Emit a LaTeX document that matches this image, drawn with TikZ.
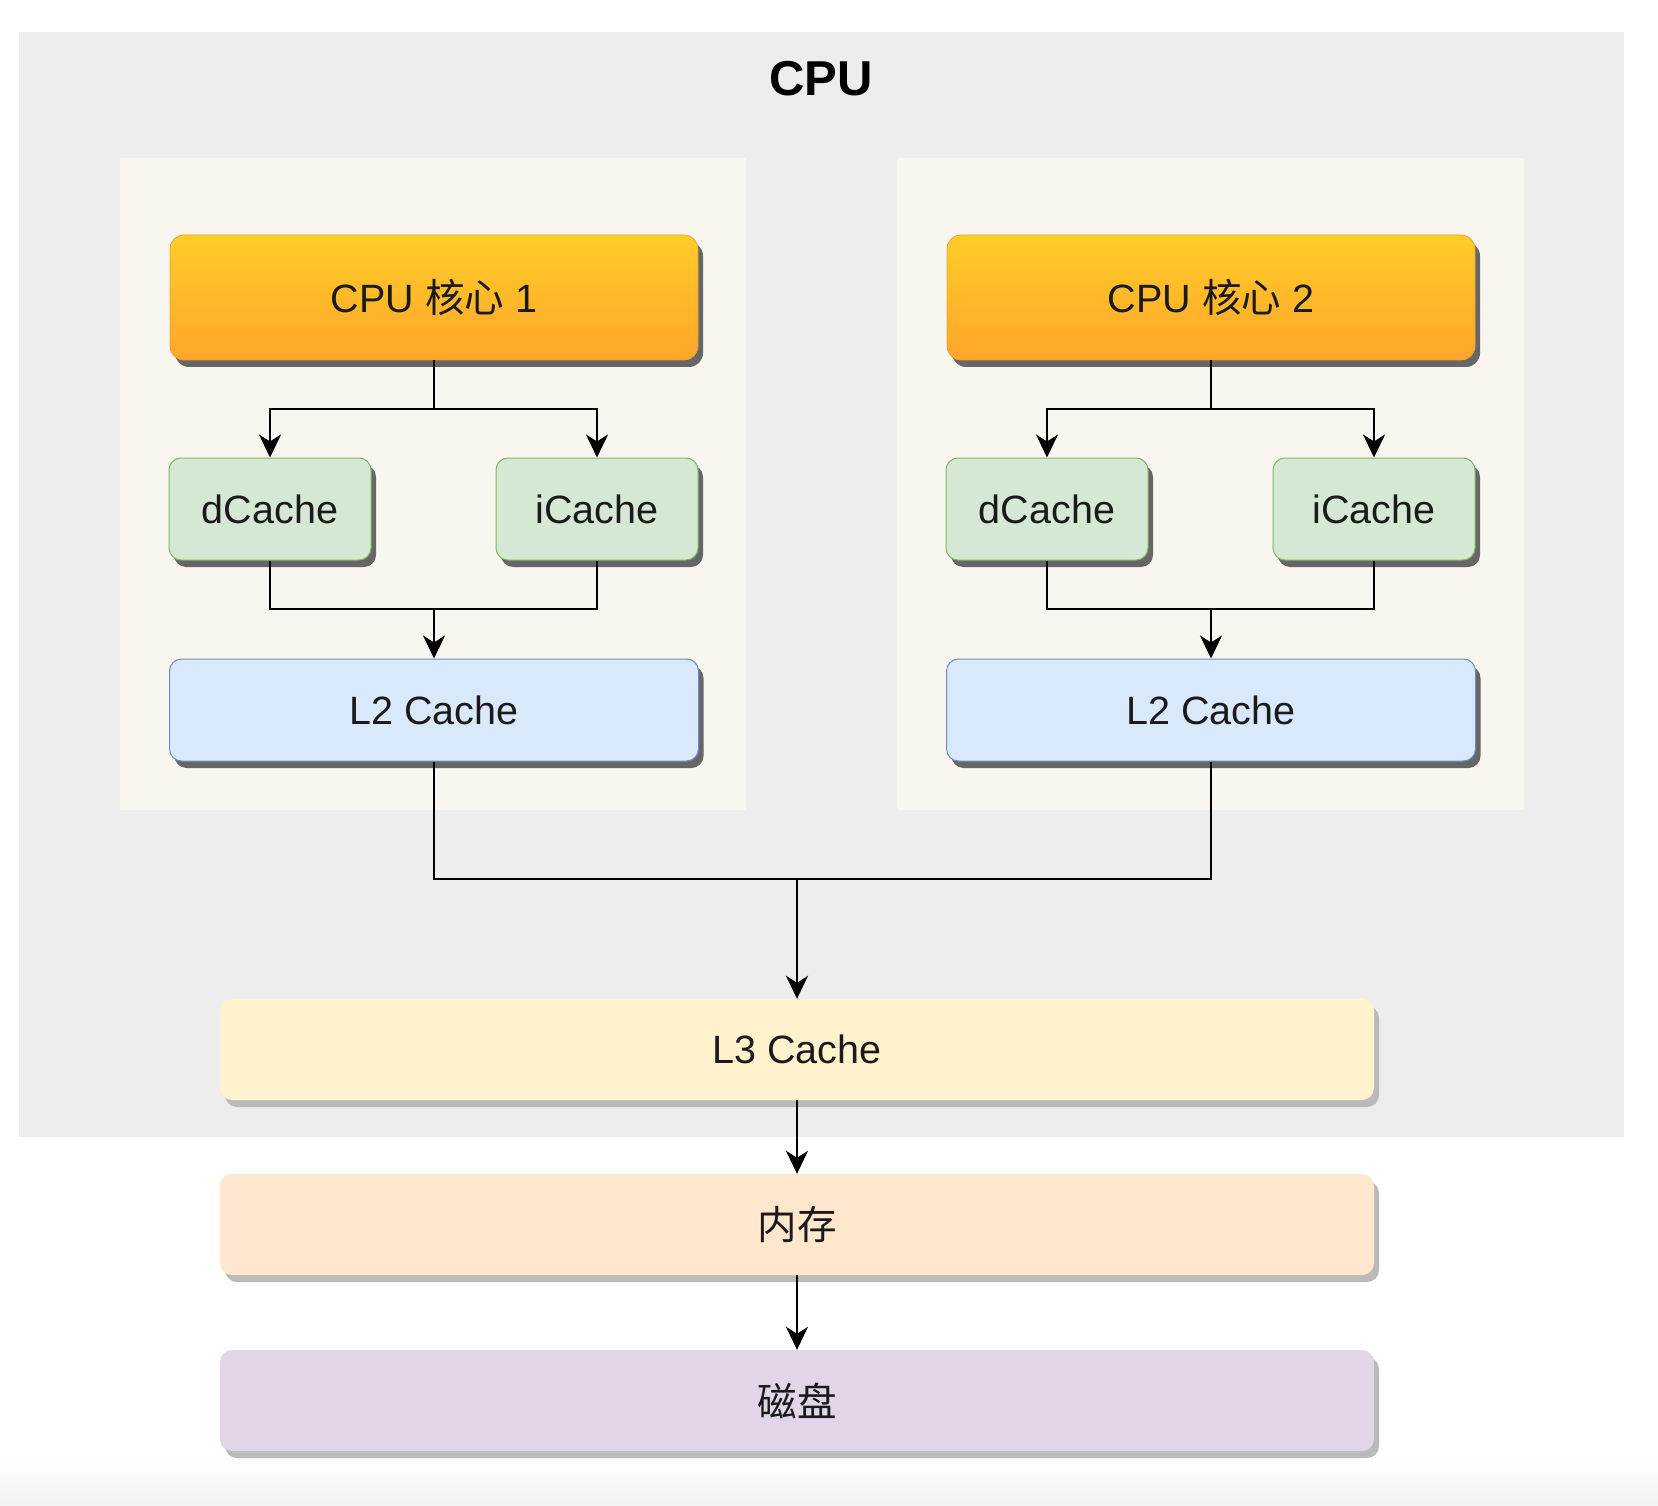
\documentclass[tikz,border=0pt]{standalone}
\usepackage{fontspec}
\setmainfont{Liberation Sans}
\newfontfamily\cjk{Noto Sans CJK SC}
\usetikzlibrary{arrows.meta,shadows}

\definecolor{cpubg}{HTML}{EDEDED}
\definecolor{panelbg}{HTML}{F8F6EE}
\definecolor{coretop}{HTML}{FFCD28}
\definecolor{corebot}{HTML}{FFA52A}
\definecolor{corestroke}{HTML}{E8A43A}
\definecolor{greenfill}{HTML}{D5E8D4}
\definecolor{greenline}{HTML}{82B366}
\definecolor{bluefill}{HTML}{DAE8FC}
\definecolor{blueline}{HTML}{6C8EBF}
\definecolor{lthree}{HTML}{FFF2CC}
\definecolor{memfill}{HTML}{FFE6CC}
\definecolor{diskfill}{HTML}{E1D5E7}
\definecolor{txt}{HTML}{1A1A1A}

\tikzset{
  lbl/.style={font=\fontsize{39.5}{46}\selectfont, text=txt},
  darkshadow/.style={drop shadow={shadow xshift=5pt, shadow yshift=-7pt, fill=black!60, opacity=1}},
  lightshadow/.style={drop shadow={shadow xshift=5pt, shadow yshift=-7pt, fill=black!27, opacity=1}},
  corebox/.style={lbl, rectangle, rounded corners=14pt, minimum width=528pt, minimum height=125pt,
    inner sep=0pt, top color=coretop, bottom color=corebot, draw=corestroke, line width=0.8pt, darkshadow},
  cachebox/.style={lbl, rectangle, rounded corners=12pt, minimum width=202pt, minimum height=102pt,
    inner sep=0pt, fill=greenfill, draw=greenline, line width=1pt, darkshadow},
  ltwobox/.style={lbl, rectangle, rounded corners=12pt, minimum width=529pt, minimum height=102pt,
    inner sep=0pt, fill=bluefill, draw=blueline, line width=1pt, darkshadow},
  widebox/.style={lbl, rectangle, rounded corners=12pt, minimum width=1154pt, minimum height=101pt,
    inner sep=0pt, draw=none, lightshadow},
  wire/.style={line width=2.4pt, black},
  arr/.style={wire, -{Stealth[length=23pt, width=22pt, inset=7pt]}},
}

\begin{document}
\begin{tikzpicture}[x=1pt, y=-1pt]
  \useasboundingbox (0,0) rectangle (1658,1506);
  \fill[white] (0,0) rectangle (1658,1506);
  % faint fade at the lower edge
  \shade[top color=white, bottom color=black!5, draw=none] (0,1458) rectangle (1658,1506);

  % CPU package and the two core panels
  \fill[cpubg] (19,32) rectangle (1624,1137);
  \node[font=\bfseries\fontsize{49}{56}\selectfont, text=black] (title) at (821,79) {CPU};
  \fill[panelbg] (120,158) rectangle (746,810);
  \fill[panelbg] (897,158) rectangle (1524,810);

  % core 1
  \node[corebox] (c1) at (434,297.5) {CPU {\cjk 核心} 1};
  \node[cachebox] (d1) at (270,509) {dCache};
  \node[cachebox] (i1) at (597,509) {iCache};
  \node[ltwobox] (l2a) at (434,710) {L2 Cache};

  % core 2
  \node[corebox] (c2) at (1211,297.5) {CPU {\cjk 核心} 2};
  \node[cachebox] (d2) at (1047,509) {dCache};
  \node[cachebox] (i2) at (1374,509) {iCache};
  \node[ltwobox] (l2b) at (1211,710) {L2 Cache};

  % shared levels
  \node[widebox, fill=lthree] (l3) at (797,1049.5) {L3 Cache};
  \node[widebox, fill=memfill] (mem) at (797,1224.5) {\cjk 内存};
  \node[widebox, fill=diskfill] (disk) at (797,1400.5) {\cjk 磁盘};

  % junction points
  \coordinate (s1) at (434,409);
  \coordinate (m1) at (434,609);
  \coordinate (s2) at (1211,409);
  \coordinate (m2) at (1211,609);
  \coordinate (m3) at (797,879);

  % core 1 wiring
  \draw[wire] (c1.south) -- (s1);
  \draw[arr] (s1) -| (d1.north);
  \draw[arr] (s1) -| (i1.north);
  \draw[wire] (d1.south) |- (m1);
  \draw[wire] (i1.south) |- (m1);
  \draw[arr] (m1) -- (l2a.north);

  % core 2 wiring
  \draw[wire] (c2.south) -- (s2);
  \draw[arr] (s2) -| (d2.north);
  \draw[arr] (s2) -| (i2.north);
  \draw[wire] (d2.south) |- (m2);
  \draw[wire] (i2.south) |- (m2);
  \draw[arr] (m2) -- (l2b.north);

  % down the hierarchy
  \draw[wire] (l2a.south) |- (m3);
  \draw[wire] (l2b.south) |- (m3);
  \draw[arr] (m3) -- (l3.north);
  \draw[arr] (l3.south) -- (mem.north);
  \draw[arr] (mem.south) -- (disk.north);
\end{tikzpicture}
\end{document}
